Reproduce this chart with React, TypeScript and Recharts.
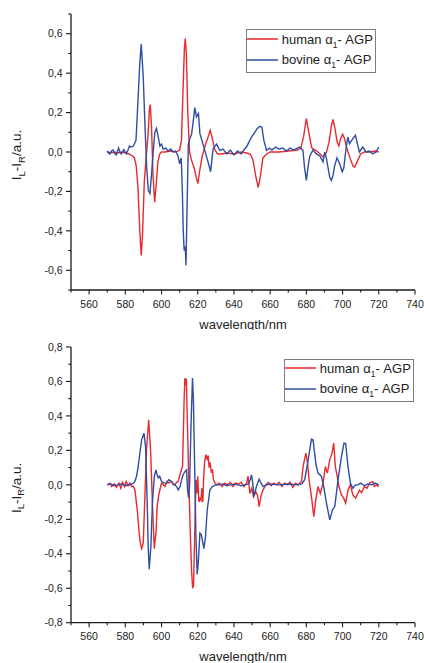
import React from 'react';
import { LineChart, Line, XAxis, YAxis, Legend } from 'recharts';

// ---------- data ----------
const xTicks = [550, 560, 570, 580, 590, 600, 610, 620, 630, 640, 650, 660, 670, 680, 690, 700, 710, 720, 730, 740];
const yTicksTop = [-0.7, -0.6, -0.5, -0.4, -0.3, -0.2, -0.1, 0, 0.1, 0.2, 0.3, 0.4, 0.5, 0.6, 0.7];
const yTicksBottom = [-0.8, -0.7, -0.6, -0.5, -0.4, -0.3, -0.2, -0.1, 0, 0.1, 0.2, 0.3, 0.4, 0.5, 0.6, 0.7, 0.8];
const seriesNames = ['human', 'bovine'];

const topHumanNm = [570, 572, 574, 576, 578, 580, 582, 584, 585, 586, 587, 588, 588.8, 589.5, 590.5, 591.5, 592.5, 593.3, 593.8, 594.5, 595.3, 596.2, 597, 598, 599, 600, 602, 605, 608, 610, 611, 612, 612.6, 613.1, 613.7, 614.5, 615.5, 616.5, 618, 619.2, 620.1, 621, 622.5, 624, 625.5, 626.9, 628, 629.5, 631, 633, 636, 640, 644, 647, 649, 650.5, 652, 653.4, 654.5, 656, 658, 660, 665, 670, 675, 677, 678.5, 680, 681.5, 683, 685, 687, 689.2, 691, 692.5, 693.8, 694.7, 695.8, 697, 697.9, 699, 700, 701, 702.1, 703, 704.5, 705.7, 706.7, 708, 710, 712, 715, 718, 720];
const topHumanVal = [0, -0.005, 0, -0.005, 0, -0.005, -0.01, -0.02, -0.03, -0.07, -0.18, -0.4, -0.525, -0.42, -0.15, -0.03, 0.08, 0.22, 0.24, 0.12, -0.12, -0.255, -0.17, -0.05, -0.01, 0, 0, 0.005, 0, 0.01, 0.06, 0.35, 0.52, 0.575, 0.5, 0.2, 0, -0.04, -0.08, -0.13, -0.16, -0.1, -0.02, 0.03, 0.07, 0.11, 0.07, 0.01, -0.01, -0.01, -0.005, -0.01, 0, -0.005, -0.01, -0.04, -0.12, -0.18, -0.13, -0.03, -0.01, 0, 0, 0.005, 0.01, 0.02, 0.08, 0.17, 0.09, 0.02, 0.01, -0.005, -0.025, -0.005, 0.05, 0.13, 0.165, 0.12, 0.05, 0.03, 0.07, 0.09, 0.07, 0.03, 0, -0.04, -0.07, -0.077, -0.05, -0.01, 0, 0, 0.005, 0];

const topBovineNm = [570, 571.3, 572.3, 573.2, 574, 575, 576.3, 577, 577.8, 579.2, 580.5, 581.5, 582.3, 583.2, 584.5, 585.9, 587.1, 588, 588.8, 589.9, 591, 591.8, 592.7, 593.6, 594.5, 595.4, 596.3, 597.2, 598.3, 599.1, 600, 600.9, 602.3, 603.6, 605.1, 606.3, 607.8, 609.1, 610, 610.9, 611.5, 612, 612.5, 613.1, 613.5, 614.2, 614.8, 615.7, 616.6, 617.5, 618.4, 619.3, 620.4, 621.2, 622.3, 623.4, 624.9, 626, 627.1, 627.8, 628.5, 630.4, 632.2, 634, 636, 638, 640, 642, 644, 645.5, 646.9, 648.3, 649.7, 651.5, 652.8, 654.3, 655.4, 656.5, 658, 659.5, 661, 663, 665, 667, 669, 671, 673, 675, 676.3, 678.1, 679, 680, 681, 681.9, 683.7, 685.5, 687.4, 689.2, 690.1, 691, 692.9, 693.8, 694.7, 695.6, 696.9, 698.4, 699.8, 700.7, 702, 702.9, 703.8, 705.7, 707.1, 708.4, 709.3, 711.1, 713, 714.8, 716.6, 718.5, 720];
const topBovineVal = [0.005, -0.01, 0.005, 0.01, -0.005, -0.015, 0.02, 0, -0.01, 0.012, -0.008, 0.01, 0.03, 0.025, 0.03, 0.06, 0.28, 0.45, 0.547, 0.38, 0.1, -0.08, -0.194, -0.21, -0.11, 0, 0.1, 0.12, 0.07, 0.03, 0.04, 0.015, 0.02, 0.005, 0.015, 0, 0.005, -0.02, -0.06, -0.03, -0.2, -0.4, -0.5, -0.48, -0.575, -0.24, 0.04, 0.07, 0.09, 0.155, 0.225, 0.178, 0.195, 0.093, 0.06, 0.025, -0.025, -0.06, -0.1, -0.04, 0.017, 0.04, 0.008, 0.015, -0.01, 0.01, -0.015, 0.005, -0.01, 0.01, 0.025, 0.05, 0.076, 0.1, 0.118, 0.13, 0.127, 0.06, 0.008, 0.02, 0.01, 0.025, 0.015, 0.02, 0.005, 0.02, 0.01, 0.02, 0.025, 0.008, -0.08, -0.144, -0.07, -0.02, 0.01, -0.01, -0.02, -0.05, 0, -0.03, -0.127, -0.144, -0.12, -0.07, -0.03, -0.06, -0.1, -0.08, 0.025, 0.076, 0.042, 0.068, 0.085, 0.034, 0, 0.025, 0, 0.005, -0.01, 0, 0.025];

const bottomHumanNm = [570, 571.5, 572.5, 574, 575, 576.5, 577.5, 578.5, 579.5, 580.5, 581.5, 582.5, 583.5, 584.5, 585.3, 586.6, 588, 589, 589.9, 591, 591.8, 592.9, 594, 595, 596, 597, 597.6, 598.8, 600, 601, 601.9, 603, 603.7, 605.5, 606.5, 607.4, 608.3, 609.2, 610.2, 611.6, 612.5, 612.9, 613.3, 613.7, 614.3, 615, 615.8, 616.6, 617.2, 617.7, 618.3, 619, 619.5, 620, 620.6, 621.2, 621.8, 622.3, 622.8, 623.3, 623.8, 624.5, 625.2, 625.8, 626.3, 626.9, 627.5, 628.1, 628.7, 629.5, 630.5, 632, 633.5, 635, 636.5, 638, 639.5, 641, 642.5, 644, 645.5, 647, 647.8, 648.8, 649.8, 650.8, 652, 653, 653.9, 655, 656.1, 657.5, 659, 660.5, 662, 663.5, 665, 666.5, 668, 669.5, 671, 672.5, 674, 675.5, 677.3, 678.2, 679.7, 680.6, 681.5, 682.8, 684.1, 685.2, 686.4, 687.7, 689.2, 690.5, 691.6, 692.9, 694.2, 695.1, 696, 697, 698, 699.4, 700.6, 701.7, 703, 704.3, 705.7, 707.2, 709.4, 710.5, 712.1, 713.5, 714.9, 716.7, 717.5, 718.6, 720];
const bottomHumanVal = [0, 0.01, -0.01, 0.005, -0.015, 0.01, -0.02, 0.015, -0.01, 0.02, -0.005, 0.01, -0.01, -0.01, -0.03, -0.145, -0.32, -0.37, -0.34, -0.01, 0.22, 0.378, 0.19, -0.12, -0.37, -0.27, -0.12, -0.04, 0.01, 0, -0.01, 0.02, 0.01, 0.02, 0, 0, 0.015, 0.02, 0.06, 0.106, 0.5, 0.62, 0.58, 0.615, 0.35, 0.05, -0.25, -0.5, -0.6, -0.58, -0.3, 0.03, -0.05, 0.05, -0.1, -0.08, -0.09, -0.02, -0.1, 0.05, 0.13, 0.175, 0.15, 0.17, 0.1, 0.13, 0.07, 0.09, 0.03, 0.01, 0, 0.01, -0.01, 0.01, 0, 0.015, -0.01, 0.01, 0.005, 0.015, -0.01, 0.01, 0.05, -0.05, -0.02, -0.07, -0.04, -0.06, -0.126, -0.06, -0.03, 0, 0.015, -0.005, 0.01, 0, 0.015, -0.01, 0.01, 0, 0.015, -0.015, 0.01, 0, 0.02, 0.106, 0.184, 0.13, 0.03, -0.068, -0.184, -0.087, -0.01, -0.05, 0.01, 0.106, 0.068, 0.145, 0.184, 0.242, 0.106, 0.05, -0.01, -0.058, -0.077, -0.106, -0.03, 0, -0.058, -0.077, -0.03, -0.045, -0.01, -0.02, 0.01, 0.02, -0.01, 0, -0.01];

const bottomBovineNm = [570, 572, 574, 576, 578, 580, 582, 584, 585.3, 586.2, 587.1, 588, 589, 590.3, 591.2, 592.1, 592.6, 593.2, 594.1, 595, 596, 596.9, 597.5, 598.2, 599, 600, 601.5, 602.8, 604, 605.5, 606.5, 607.4, 608.3, 609.2, 610.2, 611.1, 612, 612.9, 613.8, 614.4, 614.9, 615.5, 616.3, 617.1, 617.6, 618.3, 619, 619.7, 620.3, 621.2, 622, 623.4, 624.3, 625.2, 626.7, 628, 630, 632, 634, 636, 638, 640, 642, 644, 646, 648, 649, 649.7, 650.4, 651, 651.7, 652.4, 653.9, 655, 656.1, 658, 660, 665, 670, 675, 677.5, 679.1, 681, 682.8, 683.7, 685.2, 686.4, 688.3, 689.6, 691.1, 692.9, 694.4, 695.7, 697.5, 699.4, 700.8, 701.7, 703, 704.3, 705.7, 707, 708.4, 710, 712, 714, 716, 718, 720];
const bottomBovineVal = [0, 0.005, -0.005, 0, 0.005, -0.005, 0, 0.005, 0.02, 0.05, 0.106, 0.18, 0.26, 0.3, 0.22, -0.106, -0.35, -0.49, -0.36, -0.1, 0.048, 0.087, 0.06, 0.04, 0.05, 0.02, 0.01, 0.01, 0.03, 0.02, 0.005, 0, -0.01, -0.03, -0.01, 0.03, 0.06, 0.077, 0.087, -0.03, -0.075, 0, 0.35, 0.62, 0.5, 0.1, -0.3, -0.52, -0.45, -0.28, -0.29, -0.37, -0.3, -0.15, -0.03, -0.01, 0, 0, 0.005, -0.005, 0, 0.005, 0, -0.005, 0, 0.005, 0.03, 0.058, 0.01, -0.068, -0.04, -0.01, 0.033, 0.01, -0.01, 0, 0.005, 0, 0.005, 0, 0.005, 0.03, 0.145, 0.265, 0.26, 0.126, 0.068, 0.05, -0.01, -0.106, -0.203, -0.145, -0.126, 0.03, 0.165, 0.242, 0.24, 0.106, 0.01, -0.02, 0, 0, 0.01, -0.005, 0.005, 0, 0.01, 0];

const zip = (xs: number[], ys: number[]) => xs.map((x, i) => ({ x, v: ys[i] }));

const topHuman = zip(topHumanNm, topHumanVal);
const topBovine = zip(topBovineNm, topBovineVal);
const bottomHuman = zip(bottomHumanNm, bottomHumanVal);
const bottomBovine = zip(bottomBovineNm, bottomBovineVal);

// ---------- style ----------
const RED = '#e8292d';
const BLUE = '#2f4da3';
const AXIS = '#1a1a1a';
const TEXT = '#222';
const FONT = '"Liberation Sans", Arial, sans-serif';
const COLORS = [RED, BLUE];

const fmtY = (v: number) => v.toFixed(1).replace('.', ',');

const XTick = (props: any) => {
  const { x, y, payload } = props;
  const val = payload.value;
  const major = Math.round(val) % 20 === 0;
  return (
    <g>
      <line x1={x} x2={x} y1={y} y2={y + (major ? 4.5 : 2.5)} stroke={AXIS} strokeWidth={1.1} />
      {major && (
        <text x={x} y={y + 17.5} textAnchor="middle" fontSize={10.5} fill={TEXT} fontFamily={FONT}>
          {val}
        </text>
      )}
    </g>
  );
};

const YTick = (props: any) => {
  const { x, y, payload } = props;
  const val = payload.value;
  const major = Math.abs(Math.round(val * 10)) % 2 === 0;
  return (
    <g>
      <line x1={x - (major ? 5 : 2.7)} x2={x} y1={y} y2={y} stroke={AXIS} strokeWidth={1.1} />
      {major && (
        <text x={x - 8.5} y={y} dy={3.7} textAnchor="end" fontSize={10.5} fill={TEXT} fontFamily={FONT}>
          {fmtY(val)}
        </text>
      )}
    </g>
  );
};

const XTitle = (props: any) => {
  const vb = props.viewBox || { x: 71, y: 290, width: 344 };
  return (
    <text x={vb.x + vb.width / 2} y={vb.y + 38.5} textAnchor="middle" fontSize={13} fill={TEXT} fontFamily={FONT}>
      wavelength/nm
    </text>
  );
};

const YTitle = (props: any) => {
  const vb = props.viewBox || { x: 0, y: 14, width: 71, height: 276 };
  const cx = 21;
  const cy = vb.y + vb.height / 2 + 3;
  return (
    <text transform={`rotate(-90 ${cx} ${cy})`} x={cx} y={cy} textAnchor="middle" fontSize={13.5} fill={TEXT} fontFamily={FONT}>
      I<tspan dy={3.5} fontSize={9.5}>L</tspan>
      <tspan dy={-3.5}>-I</tspan>
      <tspan dy={3.5} fontSize={9.5}>R</tspan>
      <tspan dy={-3.5}>/a.u.</tspan>
    </text>
  );
};

const LegendLabel = ({ name }: { name: string }) => (
  <span>
    {name} α<sub style={{ fontSize: 8.5, verticalAlign: 'sub', lineHeight: 0 }}>1</sub>- AGP
  </span>
);

const makeLegend = (row1: number, row2: number) => () => (
  <div
    style={{
      position: 'relative',
      width: '100%',
      height: '100%',
      boxSizing: 'border-box',
      border: '1px solid #7d7d7d',
      background: '#fff',
      fontFamily: FONT,
      fontSize: 13,
      color: TEXT,
    }}
  >
    {seriesNames.map((n, i) => (
      <div
        key={n}
        style={{
          position: 'absolute',
          left: 0,
          top: (i === 0 ? row1 : row2) - 11,
          height: 20,
          display: 'flex',
          alignItems: 'center',
          whiteSpace: 'nowrap',
        }}
      >
        <svg width={31} height={6} style={{ display: 'block', marginLeft: 0.6, marginRight: 3.5 }}>
          <line x1={0} x2={31} y1={3} y2={3} stroke={COLORS[i]} strokeWidth={1.5} />
        </svg>
        <LegendLabel name={n} />
      </div>
    ))}
  </div>
);

type PanelProps = {
  height: number;
  top: number;
  domain: [number, number];
  yTicks: number[];
  human: { x: number; v: number }[];
  bovine: { x: number; v: number }[];
  legendBox: { left: number; top: number; width: number; height: number; row1: number; row2: number };
  xAxisHeight: number;
};

const Panel = ({ height, top, domain, yTicks, human, bovine, legendBox, xAxisHeight }: PanelProps) => (
  <LineChart width={424} height={height} margin={{ top, right: 9, bottom: 0, left: 0 }}>
    <XAxis
      dataKey="x"
      type="number"
      domain={[550, 740]}
      ticks={xTicks}
      interval={0}
      tickSize={0}
      tickMargin={0}
      tickLine={false}
      tick={<XTick />}
      axisLine={{ stroke: AXIS, strokeWidth: 1.3 }}
      height={xAxisHeight}
      allowDataOverflow
      label={XTitle}
    />
    <YAxis
      type="number"
      domain={domain}
      ticks={yTicks}
      interval={0}
      tickSize={0}
      tickMargin={0}
      tickLine={false}
      tick={<YTick />}
      axisLine={{ stroke: AXIS, strokeWidth: 1.3 }}
      width={71}
      allowDataOverflow
      label={YTitle}
    />
    <Legend
      layout="vertical"
      align="center"
      verticalAlign="middle"
      width={legendBox.width}
      height={legendBox.height}
      wrapperStyle={{ left: legendBox.left, top: legendBox.top, width: legendBox.width, height: legendBox.height }}
      content={makeLegend(legendBox.row1, legendBox.row2)}
    />
    <Line
      data={human}
      dataKey="v"
      name="human"
      type="linear"
      stroke={RED}
      strokeWidth={1.4}
      dot={false}
      activeDot={false}
      isAnimationActive={false}
    />
    <Line
      data={bovine}
      dataKey="v"
      name="bovine"
      type="linear"
      stroke={BLUE}
      strokeWidth={1.4}
      dot={false}
      activeDot={false}
      isAnimationActive={false}
    />
  </LineChart>
);

export default function App() {
  return (
    <div style={{ position: 'absolute', left: 0, top: 0, width: 424, height: 663, background: '#fff', overflow: 'hidden' }}>
      <div style={{ position: 'absolute', left: 0, top: 0 }}>
        <Panel
          height={330}
          top={14}
          domain={[-0.7, 0.7]}
          yTicks={yTicksTop}
          human={topHuman}
          bovine={topBovine}
          xAxisHeight={40}
          legendBox={{ left: 245.7, top: 29.3, width: 130.5, height: 43.5, row1: 10, row2: 30.7 }}
        />
      </div>
      <div style={{ position: 'absolute', left: 0, top: 330 }}>
        <Panel
          height={333}
          top={17}
          domain={[-0.8, 0.8]}
          yTicks={yTicksBottom}
          human={bottomHuman}
          bovine={bottomBovine}
          xAxisHeight={40.3}
          legendBox={{ left: 283.7, top: 28.7, width: 130, height: 43, row1: 9.6, row2: 30.3 }}
        />
      </div>
    </div>
  );
}
